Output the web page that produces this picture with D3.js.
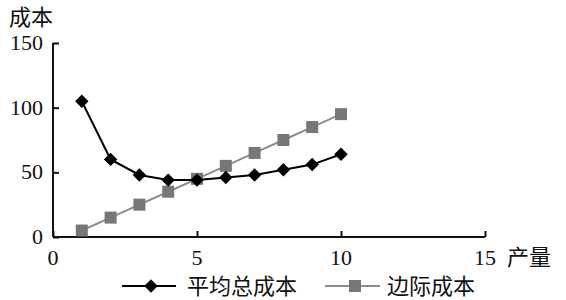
<!DOCTYPE html>
<html>
<head>
<meta charset="utf-8">
<script src="https://cdn.jsdelivr.net/npm/d3@7"></script>
<style>
  body { margin: 0; background: #fff; }
  text { fill: #111; }
  .num { font-family: "Liberation Serif", "DejaVu Serif", serif; font-size: 22px; }
  .cjk { font-family: "Noto Sans CJK SC", sans-serif; font-size: 22px; }
</style>
</head>
<body>
<svg id="chart" width="566" height="300"></svg>
<script>
// output 1..10
const output = [1, 2, 3, 4, 5, 6, 7, 8, 9, 10];
const avgTotalCost = [105, 60, 48, 44, 44, 46, 48, 52, 56, 64];
const marginalCost = [5, 15, 25, 35, 45, 55, 65, 75, 85, 95];
const xTicks = [0, 5, 10, 15];
const yTicks = [0, 50, 100, 150];
const seriesNames = ["平均总成本", "边际成本"];

const svg = d3.select("#chart");
const x = d3.scaleLinear().domain([0, 15]).range([53, 485]);
const y = d3.scaleLinear().domain([0, 150]).range([237, 43]);

// axes, ticks pointing inward
const xAxis = svg.append("g").attr("transform", `translate(0,${y(0)})`)
    .call(d3.axisTop(x).tickValues(xTicks).tickSize(6).tickFormat(""));
xAxis.select(".domain").attr("d", `M${x(0)},0H${x(15)}`);
const yAxis = svg.append("g").attr("transform", `translate(${x(0)},0)`)
    .call(d3.axisRight(y).tickValues(yTicks).tickSize(6).tickFormat(""));
yAxis.select(".domain").attr("d", `M0,${y(0)}V${y(150)}`);
svg.selectAll(".domain, .tick line").attr("stroke", "#111").attr("stroke-width", 2);

svg.selectAll(".xl").data(xTicks).enter().append("text")
    .attr("class", "num").attr("x", d => x(d)).attr("y", 265)
    .attr("text-anchor", "middle").text(d => d);
svg.selectAll(".yl").data(yTicks).enter().append("text")
    .attr("class", "num").attr("x", 43).attr("y", d => y(d) + 7)
    .attr("text-anchor", "end").text(d => d);

svg.append("text").attr("class", "cjk").attr("x", 9).attr("y", 25).text("成本");
svg.append("text").attr("class", "cjk").attr("x", 507).attr("y", 265).text("产量");

const line = d3.line().x((d, i) => x(output[i])).y(d => y(d));

// marginal cost (gray squares)
svg.append("path").datum(marginalCost).attr("d", line)
    .attr("fill", "none").attr("stroke", "#8c8c8c").attr("stroke-width", 2);
svg.selectAll(".mc").data(marginalCost).enter().append("rect")
    .attr("x", (d, i) => x(output[i]) - 6).attr("y", d => y(d) - 6)
    .attr("width", 12).attr("height", 12).attr("fill", "#777");

// average total cost (black diamonds)
const diamond = d3.symbol().type(d3.symbolDiamond2).size(115);
svg.append("path").datum(avgTotalCost).attr("d", line)
    .attr("fill", "none").attr("stroke", "#000").attr("stroke-width", 2);
svg.selectAll(".atc").data(avgTotalCost).enter().append("path")
    .attr("d", diamond)
    .attr("transform", (d, i) => `translate(${x(output[i])},${y(d)})`)
    .attr("fill", "#000");

// legend
const lg = svg.append("g");
lg.append("line").attr("x1", 122).attr("x2", 176).attr("y1", 286).attr("y2", 286)
    .attr("stroke", "#000").attr("stroke-width", 2);
lg.append("path").attr("d", diamond).attr("transform", "translate(151,286)").attr("fill", "#000");
lg.append("text").attr("class", "cjk").attr("x", 187).attr("y", 294).text(seriesNames[0]);
lg.append("line").attr("x1", 325).attr("x2", 380).attr("y1", 286).attr("y2", 286)
    .attr("stroke", "#8c8c8c").attr("stroke-width", 2);
lg.append("rect").attr("x", 349).attr("y", 280).attr("width", 12).attr("height", 12).attr("fill", "#777");
lg.append("text").attr("class", "cjk").attr("x", 387).attr("y", 294).text(seriesNames[1]);
</script>
</body>
</html>
